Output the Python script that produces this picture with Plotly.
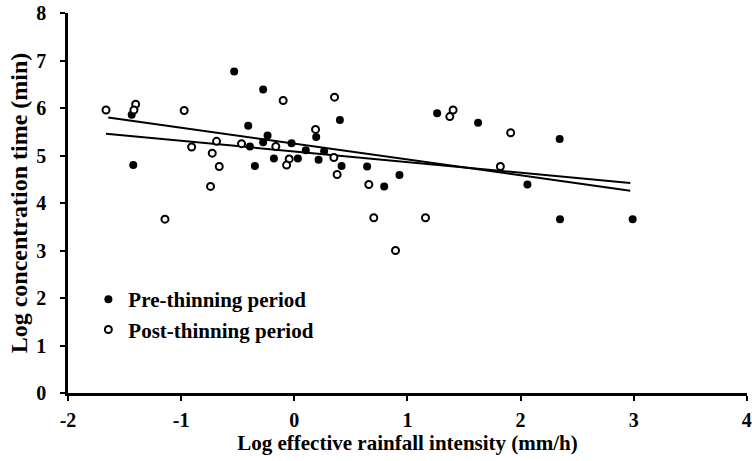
import plotly.graph_objects as go

# Pre-thinning period (filled circles)
pre_x = [-0.531, -1.437, -1.423, -0.275, -0.407, 0.403, 0.194, -0.236, -0.275, -0.392,
         -0.024, 0.102, 0.264, -0.180, 0.032, 0.215, -0.348, 0.418, 0.644, 0.795,
         0.930, 1.263, 1.625, 2.346, 2.061, 2.349, 2.991]
pre_y = [6.77, 5.86, 4.80, 6.39, 5.63, 5.75, 5.39, 5.42, 5.28, 5.19,
         5.26, 5.11, 5.09, 4.94, 4.94, 4.91, 4.78, 4.78, 4.77, 4.35,
         4.59, 5.89, 5.69, 5.35, 4.39, 3.66, 3.66]

# Post-thinning period (open circles)
post_x = [-1.664, -1.402, -1.417, -0.973, -0.907, -0.687, -0.466, -0.725, -0.663, -0.740,
          -1.143, -0.098, 0.356, 0.188, -0.163, 0.350, -0.045, -0.068, 0.379, 0.659,
          0.703, 1.160, 0.895, 1.375, 1.404, 1.822, 1.913]
post_y = [5.96, 6.08, 5.96, 5.95, 5.18, 5.30, 5.25, 5.05, 4.77, 4.35,
          3.66, 6.16, 6.23, 5.55, 5.19, 4.96, 4.93, 4.80, 4.60, 4.39,
          3.69, 3.69, 3.00, 5.82, 5.96, 4.77, 5.48]

# Regression lines (endpoints)
fit_pre_x = [-1.664, 2.97]
fit_pre_y = [5.46, 4.42]
fit_post_x = [-1.644, 2.97]
fit_post_y = [5.80, 4.26]

x_ticks = [-2, -1, 0, 1, 2, 3, 4]
y_ticks = [0, 1, 2, 3, 4, 5, 6, 7, 8]

FONT = "Times New Roman"

fig = go.Figure()
fig.add_trace(go.Scatter(x=fit_pre_x, y=fit_pre_y, mode="lines",
                         line=dict(color="black", width=2), showlegend=False, hoverinfo="skip"))
fig.add_trace(go.Scatter(x=fit_post_x, y=fit_post_y, mode="lines",
                         line=dict(color="black", width=2), showlegend=False, hoverinfo="skip"))
fig.add_trace(go.Scatter(x=pre_x, y=pre_y, mode="markers", name="Pre-thinning period",
                         marker=dict(symbol="circle", size=8, color="black",
                                     line=dict(color="black", width=0))))
fig.add_trace(go.Scatter(x=post_x, y=post_y, mode="markers", name="Post-thinning period",
                         marker=dict(symbol="circle", size=7, color="white",
                                     line=dict(color="black", width=2))))

axis_common = dict(showgrid=False, zeroline=False, showline=True, linecolor="black",
                   linewidth=2.5, ticks="outside", ticklen=5, tickwidth=2, tickcolor="black",
                   ticklabeloverflow="allow",
                   tickfont=dict(family=FONT, size=20, color="black", weight="bold"))

fig.update_xaxes(range=[-2, 4.002], tickvals=x_ticks, ticktext=[str(v) for v in x_ticks],
                 ticklabelstandoff=2,
                 title=dict(text="Log effective rainfall intensity (mm/h)",
                            font=dict(family=FONT, size=21, color="black", weight="bold"),
                            standoff=6),
                 **axis_common)
fig.update_yaxes(range=[0, 8.002], tickvals=y_ticks, ticktext=[str(v) for v in y_ticks],
                 ticklabelstandoff=10,
                 title=dict(text="Log concentration time (min)",
                            font=dict(family=FONT, size=24, color="black", weight="bold"),
                            standoff=2),
                 **axis_common)

fig.update_layout(
    width=752, height=461,
    margin=dict(l=68, r=5, t=13, b=68, autoexpand=False),
    plot_bgcolor="white", paper_bgcolor="white",
    showlegend=True,
    legend=dict(x=0.03, y=0.30, xanchor="left", yanchor="top",
                bgcolor="rgba(0,0,0,0)", borderwidth=0, itemwidth=30,
                font=dict(family=FONT, size=21, color="black", weight="bold"),
                tracegroupgap=0),
)

fig.write_html("out.html", config={"displayModeBar": False},
               post_script="document.body.style.margin='0';")
